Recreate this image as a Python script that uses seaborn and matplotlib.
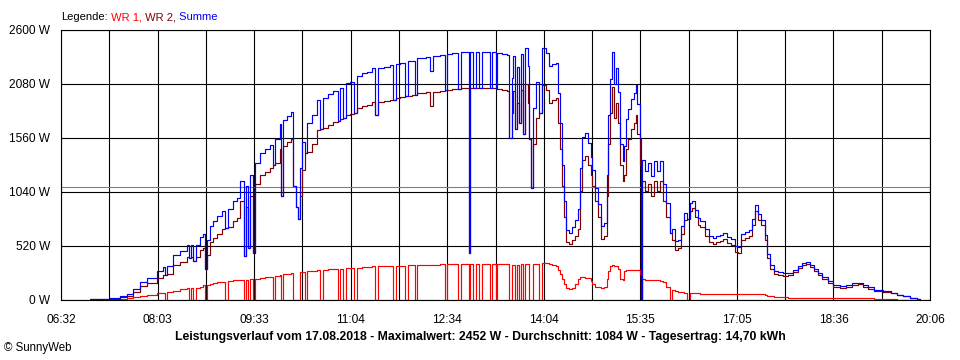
import numpy as np
import pandas as pd
import matplotlib
matplotlib.use("Agg")
import matplotlib.pyplot as plt
import seaborn as sns

# minutes after 06:32
t_min = [27, 37, 46, 55, 62, 67, 74, 81, 90, 96, 97, 99, 105, 111, 118, 120, 122, 124, 126, 130,
         133, 135, 137, 140, 142, 146, 151, 154, 156, 161, 165, 168, 171, 173, 175, 177, 180, 182, 186, 191,
         196, 199, 200, 205, 206, 208, 212, 215, 217, 220, 222, 224, 226, 229, 230, 235, 240, 243, 245, 250,
         255, 259, 261, 264, 267, 271, 274, 277, 282, 287, 291, 294, 297, 303, 308, 311, 314, 318, 322, 325,
         329, 332, 333, 338, 342, 346, 348, 355, 360, 362, 366, 370, 372, 375, 378, 382, 383, 386, 389, 392,
         394, 399, 402, 404, 407, 408, 413, 418, 420, 422, 423, 425, 427, 429, 431, 433, 435, 437, 438, 440,
         442, 445, 448, 451, 454, 457, 460, 464, 466, 467, 469, 471, 473, 476, 479, 481, 484, 486, 488, 491,
         494, 496, 497, 500, 503, 506, 509, 511, 512, 514, 516, 518, 520, 522, 524, 526, 527, 529, 531, 534,
         537, 539, 540, 542, 543, 544, 547, 550, 553, 555, 558, 561, 564, 567, 570, 572, 575, 578, 581, 584,
         586, 589, 591, 594, 597, 599, 603, 607, 611, 614, 617, 620, 624, 628, 631, 634, 637, 641, 644, 647,
         650, 653, 656, 659, 661, 664, 668, 672, 676, 681, 686, 690, 694, 698, 702, 705, 709, 713, 718, 723,
         730, 735, 741, 747, 751, 756, 762, 770, 777, 783, 789, 795, 802, 805]

wr1 = [0, 0, 3, 10, 20, 30, 40, 50, 65, 70, 0, 75, 90, 105, 115, 0, 115, 0, 115, 130,
       140, 0, 145, 150, 160, 170, 175, 0, 180, 190, 190, 195, 0, 195, 0, 200, 0, 200, 215, 220,
       225, 0, 230, 245, 0, 250, 255, 260, 0, 0, 0, 270, 270, 0, 275, 280, 285, 0, 290, 295,
       300, 0, 300, 0, 305, 305, 0, 310, 315, 315, 325, 0, 325, 325, 330, 0, 330, 330, 0, 335,
       335, 0, 340, 340, 340, 340, 340, 345, 0, 345, 345, 345, 0, 345, 345, 0, 345, 0, 345, 0,
       345, 345, 0, 345, 0, 345, 345, 345, 0, 340, 340, 0, 340, 0, 345, 0, 350, 350, 0, 0,
       350, 350, 0, 355, 355, 350, 340, 330, 290, 250, 200, 150, 115, 110, 120, 150, 200, 220, 220, 215,
       215, 180, 150, 130, 125, 120, 125, 200, 280, 330, 335, 330, 330, 300, 200, 190, 280, 290, 290, 290,
       290, 290, 290, 250, 0, 200, 195, 195, 195, 190, 190, 185, 170, 130, 0, 100, 90, 80, 75, 70,
       0, 70, 65, 65, 65, 60, 60, 60, 60, 58, 58, 58, 58, 58, 58, 58, 58, 58, 58, 58,
       58, 58, 55, 50, 40, 35, 30, 25, 25, 20, 20, 20, 20, 20, 20, 20, 20, 20, 20, 15,
       15, 15, 15, 15, 15, 15, 10, 10, 5, 0, 0, 0, 0, 0]

wr2 = [5, 10, 12, 25, 40, 80, 135, 165, 215, 245, 245, 255, 340, 370, 410, 400, 410, 380, 415, 480,
       500, 300, 430, 560, 600, 640, 680, 690, 700, 760, 790, 950, 420, 900, 500, 1000, 450, 1120, 1200, 1230,
       1270, 1300, 1320, 1450, 1000, 1480, 1520, 1550, 1100, 900, 780, 1000, 1250, 1420, 1430, 1500, 1640, 1650, 1660, 1690,
       1710, 1720, 1740, 1750, 1780, 1790, 1800, 1850, 1870, 1880, 1905, 1780, 1910, 1920, 1930, 1930, 1945, 1955, 1960, 1965,
       1970, 1975, 1990, 1995, 2000, 1870, 2005, 2015, 2020, 2025, 2030, 2035, 2035, 2040, 2040, 450, 2040, 2045, 2045, 2045,
       2045, 2040, 2040, 2040, 2035, 2030, 2020, 2010, 1560, 1800, 2010, 1650, 1900, 1700, 2020, 1600, 2080, 1900, 1550, 1080,
       1500, 1750, 1800, 2070, 2020, 1900, 1930, 1950, 1700, 1450, 1100, 800, 560, 540, 580, 620, 680, 1050, 1350, 1390,
       1300, 1200, 1100, 950, 800, 590, 620, 1000, 1500, 1800, 2050, 1750, 1900, 1700, 1300, 1150, 1200, 1450, 1550, 1650,
       1700, 1780, 1600, 1300, 0, 1150, 1050, 1120, 1000, 1150, 1050, 1150, 950, 800, 650, 580, 480, 500, 640, 770,
       780, 860, 890, 800, 720, 700, 620, 560, 540, 560, 570, 590, 550, 530, 460, 450, 580, 600, 620, 720,
       860, 770, 720, 580, 400, 300, 250, 240, 235, 240, 270, 310, 340, 345, 320, 280, 240, 200, 160, 125,
       120, 125, 145, 150, 130, 110, 90, 80, 65, 45, 35, 20, 10, 0]

summe = [5, 10, 15, 35, 60, 110, 175, 215, 280, 315, 245, 330, 430, 475, 525, 400, 525, 380, 530, 610,
         640, 300, 575, 710, 760, 810, 855, 690, 880, 950, 980, 1145, 420, 1095, 500, 1200, 450, 1320, 1415, 1450,
         1495, 1300, 1550, 1695, 1000, 1730, 1775, 1810, 1100, 900, 780, 1270, 1520, 1420, 1705, 1780, 1925, 1650, 1950, 1985,
         2010, 1720, 2040, 1750, 2085, 2095, 1800, 2160, 2185, 2195, 2230, 1780, 2235, 2245, 2260, 1930, 2275, 2285, 1960, 2300,
         2305, 1975, 2330, 2335, 2340, 2210, 2345, 2360, 2020, 2370, 2375, 2380, 2035, 2385, 2385, 450, 2385, 2045, 2390, 2045,
         2390, 2385, 2040, 2385, 2035, 2375, 2365, 2355, 1560, 2140, 2350, 1650, 2240, 1700, 2365, 1600, 2430, 2250, 1550, 1080,
         1850, 2100, 1800, 2425, 2375, 2250, 2270, 2280, 1990, 1700, 1300, 950, 675, 650, 700, 770, 880, 1270, 1570, 1605,
         1515, 1380, 1250, 1080, 925, 710, 745, 1200, 1780, 2130, 2385, 2080, 2230, 2000, 1500, 1340, 1480, 1740, 1840, 1940,
         1990, 2070, 1890, 1550, 0, 1350, 1245, 1315, 1195, 1340, 1240, 1335, 1120, 930, 650, 680, 570, 580, 715, 840,
         780, 930, 955, 865, 785, 760, 680, 620, 600, 618, 628, 648, 608, 588, 518, 508, 638, 658, 678, 778,
         918, 828, 775, 630, 440, 335, 280, 265, 260, 260, 290, 330, 360, 365, 340, 300, 260, 220, 180, 140,
         135, 140, 160, 165, 145, 125, 100, 90, 70, 45, 35, 20, 10, 0]

x_span = [0, 814]
x_tick_labels = ["06:32", "08:03", "09:33", "11:04", "12:34", "14:04", "15:35", "17:05", "18:36", "20:06"]
y_ticks = [0, 520, 1040, 1560, 2080, 2600]
avg_w = 1084
series_names = ["WR 1", "WR 2", "Summe"]
series_colors = ["#ff0000", "#800000", "#0000ff"]
title_text = "Leistungsverlauf vom 17.08.2018 - Maximalwert: 2452 W - Durchschnitt: 1084 W - Tagesertrag: 14,70 kWh"

df = pd.DataFrame({"t": t_min, "WR 1": wr1, "WR 2": wr2, "Summe": summe})

sns.set_style("white")
plt.rcParams["font.family"] = ["Liberation Sans", "DejaVu Sans"]

fig = plt.figure(figsize=(9.6, 3.6), dpi=100)
ax = fig.add_axes([61 / 960, 60 / 360, 869 / 960, 270 / 360])

ax.axhline(avg_w, color="#808080", lw=0.8, zorder=1.5)

for name, col in zip(series_names, series_colors):
    sns.lineplot(data=df, x="t", y=name, color=col, lw=0.85, drawstyle="steps-post",
                 estimator=None, ax=ax, zorder=3)

ax.set_xlim(*x_span)
ax.set_ylim(y_ticks[0], y_ticks[-1])
xt = np.linspace(x_span[0], x_span[1], 2 * (len(x_tick_labels) - 1) + 1)
ax.set_xticks(xt)
ax.set_xticklabels([x_tick_labels[i // 2] if i % 2 == 0 else "" for i in range(len(xt))])
ax.set_yticks(y_ticks)
ax.set_yticklabels([f"{v} W" for v in y_ticks])
ax.grid(True, color="black", lw=0.8)
ax.set_axisbelow(True)
ax.tick_params(axis="both", direction="out", length=5, width=0.8, color="black",
               labelsize=8.6, labelcolor="black", pad=3)
ax.tick_params(axis="x", pad=5)
for s in ax.spines.values():
    s.set_color("black")
    s.set_linewidth(0.8)
ax.set_xlabel("")
ax.set_ylabel("")

# legend line at top
t0 = fig.text(61 / 960, 1 - 17 / 360, "Legende:", fontsize=8.0, color="black", va="center", ha="left")
prev = t0
for name, col, sep in zip(series_names, series_colors, [",", ",", ""]):
    prev = ax.annotate(" " + name + sep, xy=(1, 0), xycoords=prev, va="bottom", ha="left",
                       fontsize=8.0, color=col)

fig.text(480 / 960, 1 - 337 / 360, title_text, fontsize=8.8, fontweight="bold",
         ha="center", va="center", color="black")
fig.text(4 / 960, 1 - 348 / 360, "\u00a9 SunnyWeb", fontsize=8.3, ha="left", va="center", color="black")

fig.savefig("out.png", dpi=100)
